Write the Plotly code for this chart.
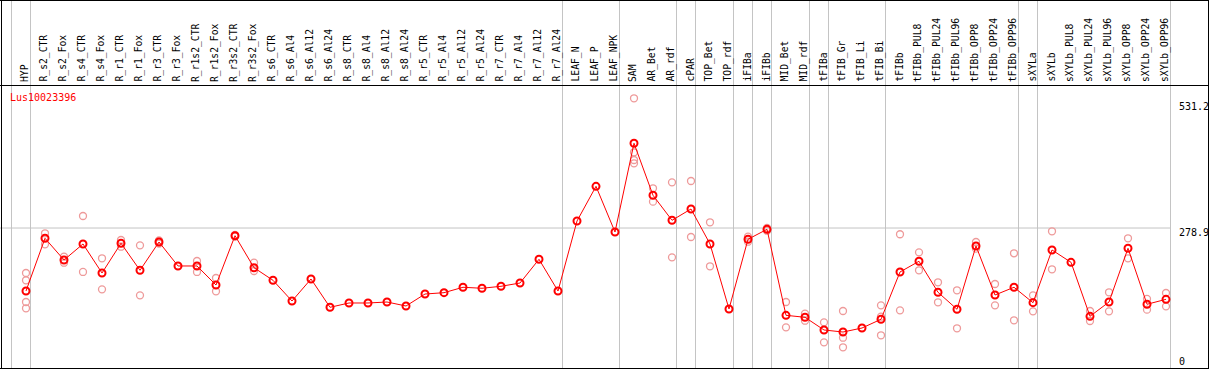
import plotly.graph_objects as go

# ---------------- data ----------------
categories = [
    "HYP", "R_s2_CTR", "R_s2_Fox", "R_s4_CTR", "R_s4_Fox", "R_r1_CTR", "R_r1_Fox",
    "R_r3_CTR", "R_r3_Fox", "R_r1s2_CTR", "R_r1s2_Fox", "R_r3s2_CTR", "R_r3s2_Fox",
    "R_s6_CTR", "R_s6_Al4", "R_s6_Al12", "R_s6_Al24", "R_s8_CTR", "R_s8_Al4",
    "R_s8_Al12", "R_s8_Al24", "R_r5_CTR", "R_r5_Al4", "R_r5_Al12", "R_r5_Al24",
    "R_r7_CTR", "R_r7_Al4", "R_r7_Al12", "R_r7_Al24", "LEAF_N", "LEAF_P", "LEAF_NPK",
    "SAM", "AR_Bet", "AR_rdf", "cPAR", "TOP_Bet", "TOP_rdf", "iFIBa", "iFIBb",
    "MID_Bet", "MID_rdf", "tFIBa", "tFIB_Gr", "tFIB_Li", "tFIB_Bi", "tFIBb",
    "tFIBb_PUL8", "tFIBb_PUL24", "tFIBb_PUL96", "tFIBb_OPP8", "tFIBb_OPP24",
    "tFIBb_OPP96", "sXYLa", "sXYLb", "sXYLb_PUL8", "sXYLb_PUL24", "sXYLb_PUL96",
    "sXYLb_OPP8", "sXYLb_OPP24", "sXYLb_OPP96",
]

means = [
    151.8, 258.2, 214.4, 246.7, 188.1, 248.1, 193.6, 250.7, 202.3, 202.3, 163.9,
    263.4, 198.8, 173.4, 131.6, 176.0, 118.9, 127.6, 127.6, 129.6, 121.5, 145.7,
    148.4, 159.3, 157.3, 161.3, 167.9, 215.8, 151.8, 293.1, 363.1, 270.9, 450.0,
    345.0, 294.5, 317.3, 246.7, 115.5, 256.2, 276.3, 102.7, 98.7, 73.1, 69.0,
    77.1, 94.7, 190.2, 211.8, 149.2, 114.9, 242.6, 143.7, 159.3, 128.2, 234.6,
    209.7, 100.7, 129.6, 238.0, 125.0, 135.0,
]

replicates = [
    [188.1, 173.4, 129.6, 116.9], [268.3, 246.1], [221.0, 208.9], [303.2, 190.2],
    [217.8, 155.2], [254.7, 241.2], [244.0, 143.1], [253.7, 247.7], [], [212.4, 190.2],
    [178.0, 151.2], [265.0, 261.8], [208.9, 192.2], [], [], [], [], [], [], [], [], [],
    [], [], [], [], [], [], [], [], [], [],
    [540.8, 431.8, 416.2, 409.6], [359.1, 332.1], [371.2, 219.8], [373.8, 260.8],
    [290.5, 201.7], [], [261.4, 251.3], [279.0, 273.5], [129.6, 78.5], [106.0, 91.8],
    [88.6, 48.2], [111.4, 57.5, 38.2], [], [122.9, 99.9, 62.4], [266.3, 112.8],
    [229.9, 193.6], [169.4, 129.0], [153.2, 76.5], [250.7, 237.2], [165.9, 122.9],
    [227.9, 92.7], [143.1, 110.8], [272.3, 195.6], [], [111.4, 91.2], [149.2, 110.8],
    [258.2, 217.8], [135.7, 114.1], [147.8, 120.9],
]

group_ends = [-1, 0, 28, 31, 34, 35, 37, 38, 39, 41, 42, 45, 52, 53, 60]
gene = "Lus10023396"
y_labels = [0, 278.9, 531.2]
grid_value = 278.9

# ---------------- frame geometry ----------------
W, H = 1209, 370
L, R, T, B = 0, 36, 86, 1
PW = W - L - R
PH = H - T - B
first_px, step_px = 26.0, 19.0          # category spacing on screen
zero_px, px_per_unit = 366.2, 0.4954      # vertical scale
xr = [(L - first_px) / step_px, (L + PW - first_px) / step_px]
yr = [(zero_px - (T + PH)) / px_per_unit, (zero_px - T) / px_per_unit]
sep_off = 4.5 / step_px


def px_x(px):
    return (px - L) / PW


def px_y(py):
    return (T + PH - py) / PH


idx = list(range(len(categories)))

rep_x, rep_y = [], []
for i, reps in enumerate(replicates):
    for v in reps:
        rep_x.append(i)
        rep_y.append(v)

fig = go.Figure()
fig.add_trace(go.Scatter(
    x=rep_x, y=rep_y, mode="markers", hoverinfo="skip",
    marker=dict(symbol="circle-open", size=7, color="#EE9A9A",
                line=dict(width=1.3, color="#EE9A9A")),
    showlegend=False,
))
fig.add_trace(go.Scatter(
    x=idx, y=means, mode="lines+markers",
    line=dict(color="#FF0000", width=1),
    marker=dict(symbol="circle-open", size=7, color="#FF0000",
                line=dict(width=2, color="#FF0000")),
    showlegend=False,
))

shapes = []
for k in group_ends:
    shapes.append(dict(type="line", xref="x", yref="paper",
                       x0=k + sep_off, x1=k + sep_off, y0=px_y(369), y1=px_y(0),
                       line=dict(color="#C4C4C4", width=1), layer="below"))
shapes.append(dict(type="line", xref="x", yref="y", x0=xr[0],
                   x1=group_ends[-1] + sep_off, y0=grid_value, y1=grid_value,
                   line=dict(color="#C4C4C4", width=1), layer="below"))
for py in (0.5, 85.5, 368.5):
    shapes.append(dict(type="line", xref="paper", yref="paper",
                       x0=px_x(0), x1=px_x(W), y0=px_y(py), y1=px_y(py),
                       line=dict(color="black", width=1)))
for px in (1.5, 1208.5):
    shapes.append(dict(type="line", xref="paper", yref="paper",
                       x0=px_x(px), x1=px_x(px), y0=px_y(369), y1=px_y(0),
                       line=dict(color="black", width=1)))

mono = "DejaVu Sans Mono"
annotations = []
for i, c in enumerate(categories):
    annotations.append(dict(x=i, xref="x", y=px_y(84), yref="paper", text=c,
                            showarrow=False, textangle=-90, xanchor="center",
                            yanchor="bottom", xshift=-1,
                            font=dict(family=mono, size=9.7, color="black")))
shifts = {0: 4.5, 278.9: -4.3, 531.2: -3.6}
for v in y_labels:
    annotations.append(dict(x=px_x(1177), xref="paper", y=v, yref="y",
                            text=str(v), showarrow=False, xanchor="left",
                            yanchor="middle", yshift=shifts[v],
                            font=dict(family=mono, size=10, color="black")))
annotations.append(dict(x=px_x(8), xref="paper", y=px_y(97), yref="paper",
                        text=gene, showarrow=False, xanchor="left", yanchor="middle",
                        font=dict(family=mono, size=10, color="#FF0000")))

fig.update_layout(
    width=W, height=H, margin=dict(l=L, r=R, t=T, b=B, pad=0),
    paper_bgcolor="white", plot_bgcolor="white",
    xaxis=dict(range=xr, visible=False, fixedrange=True),
    yaxis=dict(range=yr, visible=False, fixedrange=True),
    shapes=shapes, annotations=annotations, hovermode=False,
)

fig.write_html(
    "out.html",
    config={"displayModeBar": False},
    post_script="document.body.style.margin='0';document.body.style.overflow='hidden';",
)
